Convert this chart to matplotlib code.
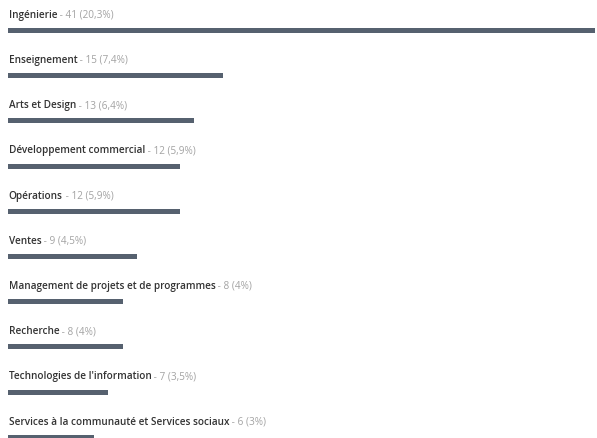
import matplotlib.pyplot as plt

categories = [
    "Ingénierie",
    "Enseignement",
    "Arts et Design",
    "Développement commercial",
    "Opérations",
    "Ventes",
    "Management de projets et de programmes",
    "Recherche",
    "Technologies de l'information",
    "Services à la communauté et Services sociaux",
]
counts = [41, 15, 13, 12, 12, 9, 8, 8, 7, 6]
pct_labels = ["20,3%", "7,4%", "6,4%", "5,9%", "5,9%", "4,5%", "4%", "4%", "3,5%", "3%"]

W, H = 597, 438
fig = plt.figure(figsize=(W / 100, H / 100), dpi=100)
ax = fig.add_axes([0, 0, 1, 1])
ax.axis("off")

# pixel layout: bar starts at x=8, max value ends at x=595; rows every 45.2 px
x0, x1 = 8, 595
vmax = max(counts)
ax.set_xlim(-x0 * vmax / (x1 - x0), (W - x0) * vmax / (x1 - x0))
row_px, first_px = 45.2, 30.5
ax.set_ylim((H - first_px) / row_px, -first_px / row_px)

ypos = list(range(len(categories)))
ax.barh(ypos, counts, height=5 / row_px, left=0, color="#56616f")

for i, (cat, n, p) in enumerate(zip(categories, counts, pct_labels)):
    t = ax.text(0.05, i - 15.2 / row_px, cat, fontsize=7.2, color="#333333",
                family="Open Sans", fontweight="semibold", va="center", ha="left")
    ax.annotate(f" - {n} ({p})", xy=(1, 0.5), xycoords=t, fontsize=7.2,
                color="#a3a3a3", family="Open Sans", va="center", ha="left")

fig.savefig("out.png", dpi=100, facecolor="white")
